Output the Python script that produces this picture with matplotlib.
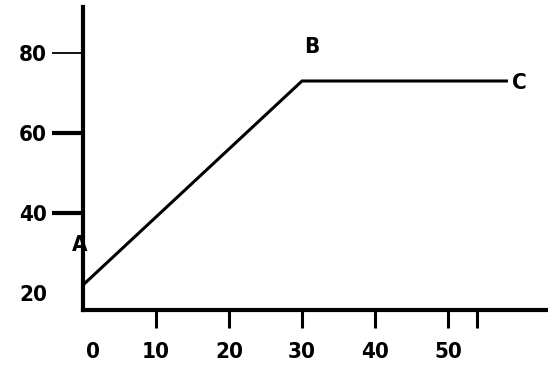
import matplotlib
matplotlib.use("Agg")
import matplotlib.pyplot as plt
from matplotlib.transforms import ScaledTranslation

# Heating curve: rises from A to B, then holds flat to C
time = [0, 30, 58]
temp = [22, 73, 73]

x_ticks = [0, 10, 20, 30, 40, 50]
x_labels = ["0", "10", "20", "30", "40", "50"]
y_ticks = [20, 40, 60, 80]
y_labels = ["20", "40", "60", "80"]

point_names = ["A", "B", "C"]
point_label_xy = [(-0.4, 32), (31.4, 81.5), (59.8, 72.5)]

plt.rcParams["font.family"] = ["DejaVu Sans"]
label_font = dict(fontsize=16, fontweight="bold", fontstretch="condensed")

fig = plt.figure(figsize=(5.48, 3.66), dpi=100)
ax = fig.add_axes([83 / 548, 56 / 366, 465 / 548, 303 / 366])

ax.plot(time, temp, color="black", lw=2.2, solid_joinstyle="miter")

ax.set_xlim(0, 63.7)
ax.set_ylim(15.75, 91.5)

for side in ["top", "right"]:
    ax.spines[side].set_visible(False)
for side in ["left", "bottom"]:
    ax.spines[side].set_linewidth(3)

ax.set_xticks(x_ticks)
ax.set_xticklabels(x_labels, **label_font)
ax.set_xticks([54], minor=True)
ax.tick_params(axis="x", which="both", direction="out", length=13, width=2.2, pad=10)
ax.xaxis.get_major_ticks()[0].tick1line.set_visible(False)
zero = ax.get_xticklabels()[0]
zero.set_transform(zero.get_transform() + ScaledTranslation(0.1, 0, fig.dpi_scale_trans))

ax.set_yticks(y_ticks)
ax.set_yticklabels(y_labels, **label_font)
ax.tick_params(axis="y", direction="out", length=22, width=3, pad=4)
yt = ax.yaxis.get_major_ticks()
yt[0].tick1line.set_visible(False)
yt[3].tick1line.set_markeredgewidth(1.3)

for name, (px, py) in zip(point_names, point_label_xy):
    ax.text(px, py, name, ha="center", va="center", clip_on=False, **label_font)

fig.savefig("out.png", dpi=100)
